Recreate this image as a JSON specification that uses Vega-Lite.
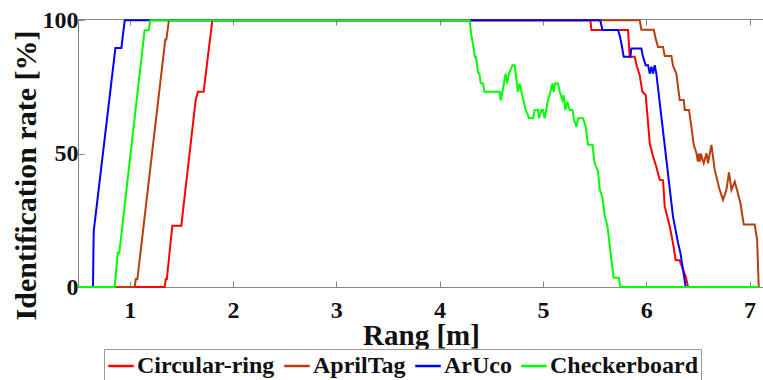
{
  "$schema": "https://vega.github.io/schema/vega-lite/v6.json",
  "width": 686,
  "height": 268,
  "autosize": {"type": "none"},
  "padding": {"left": 78, "top": 19, "right": 0, "bottom": 93},
  "background": "white",
  "config": {
    "view": {"stroke": null},
    "font": "Liberation Serif",
    "axis": {
      "grid": false,
      "labelFont": "Liberation Serif",
      "labelFontWeight": "bold",
      "labelColor": "#111111",
      "titleFont": "Liberation Serif",
      "titleFontWeight": "bold",
      "titleColor": "#111111",
      "domainColor": "#858585",
      "tickColor": "#858585",
      "domainWidth": 1,
      "tickWidth": 1
    }
  },
  "datasets": {
    "rates": [
      {"series": "Circular-ring", "range": 0.5, "rate": 0},
      {"series": "Circular-ring", "range": 1.339, "rate": 0},
      {"series": "Circular-ring", "range": 1.35, "rate": 3},
      {"series": "Circular-ring", "range": 1.36, "rate": 3},
      {"series": "Circular-ring", "range": 1.413, "rate": 23},
      {"series": "Circular-ring", "range": 1.5, "rate": 23},
      {"series": "Circular-ring", "range": 1.639, "rate": 70.1},
      {"series": "Circular-ring", "range": 1.661, "rate": 73.2},
      {"series": "Circular-ring", "range": 1.716, "rate": 73.2},
      {"series": "Circular-ring", "range": 1.8, "rate": 100},
      {"series": "Circular-ring", "range": 5.46, "rate": 100},
      {"series": "Circular-ring", "range": 5.469, "rate": 96.4},
      {"series": "Circular-ring", "range": 5.824, "rate": 96.4},
      {"series": "Circular-ring", "range": 5.84, "rate": 86.3},
      {"series": "Circular-ring", "range": 5.888, "rate": 86.3},
      {"series": "Circular-ring", "range": 5.911, "rate": 82.6},
      {"series": "Circular-ring", "range": 5.937, "rate": 79.4},
      {"series": "Circular-ring", "range": 5.963, "rate": 73.2},
      {"series": "Circular-ring", "range": 5.995, "rate": 72},
      {"series": "Circular-ring", "range": 6.034, "rate": 53.9},
      {"series": "Circular-ring", "range": 6.066, "rate": 49},
      {"series": "Circular-ring", "range": 6.098, "rate": 45},
      {"series": "Circular-ring", "range": 6.131, "rate": 40.2},
      {"series": "Circular-ring", "range": 6.163, "rate": 40},
      {"series": "Circular-ring", "range": 6.179, "rate": 30.2},
      {"series": "Circular-ring", "range": 6.228, "rate": 22.7},
      {"series": "Circular-ring", "range": 6.259, "rate": 16.5},
      {"series": "Circular-ring", "range": 6.285, "rate": 10},
      {"series": "Circular-ring", "range": 6.324, "rate": 10},
      {"series": "Circular-ring", "range": 6.356, "rate": 6.5},
      {"series": "Circular-ring", "range": 6.382, "rate": 4},
      {"series": "Circular-ring", "range": 6.405, "rate": 0},
      {"series": "Circular-ring", "range": 7.09, "rate": 0},

      {"series": "AprilTag", "range": 0.5, "rate": 0},
      {"series": "AprilTag", "range": 1.048, "rate": 0},
      {"series": "AprilTag", "range": 1.06, "rate": 3},
      {"series": "AprilTag", "range": 1.075, "rate": 3},
      {"series": "AprilTag", "range": 1.345, "rate": 92.8},
      {"series": "AprilTag", "range": 1.355, "rate": 92.8},
      {"series": "AprilTag", "range": 1.38, "rate": 100},
      {"series": "AprilTag", "range": 5.937, "rate": 100},
      {"series": "AprilTag", "range": 5.953, "rate": 96.5},
      {"series": "AprilTag", "range": 6.073, "rate": 96.5},
      {"series": "AprilTag", "range": 6.092, "rate": 93.1},
      {"series": "AprilTag", "range": 6.114, "rate": 90},
      {"series": "AprilTag", "range": 6.163, "rate": 90},
      {"series": "AprilTag", "range": 6.179, "rate": 86.6},
      {"series": "AprilTag", "range": 6.244, "rate": 86.6},
      {"series": "AprilTag", "range": 6.259, "rate": 83},
      {"series": "AprilTag", "range": 6.292, "rate": 80},
      {"series": "AprilTag", "range": 6.324, "rate": 70.1},
      {"series": "AprilTag", "range": 6.363, "rate": 70.1},
      {"series": "AprilTag", "range": 6.373, "rate": 66.4},
      {"series": "AprilTag", "range": 6.414, "rate": 66.4},
      {"series": "AprilTag", "range": 6.437, "rate": 60.1},
      {"series": "AprilTag", "range": 6.46, "rate": 53.3},
      {"series": "AprilTag", "range": 6.486, "rate": 50.2},
      {"series": "AprilTag", "range": 6.5, "rate": 47},
      {"series": "AprilTag", "range": 6.51, "rate": 50},
      {"series": "AprilTag", "range": 6.52, "rate": 47},
      {"series": "AprilTag", "range": 6.53, "rate": 50},
      {"series": "AprilTag", "range": 6.544, "rate": 48},
      {"series": "AprilTag", "range": 6.557, "rate": 46.4},
      {"series": "AprilTag", "range": 6.583, "rate": 50.2},
      {"series": "AprilTag", "range": 6.598, "rate": 46.4},
      {"series": "AprilTag", "range": 6.631, "rate": 53.3},
      {"series": "AprilTag", "range": 6.663, "rate": 43.9},
      {"series": "AprilTag", "range": 6.711, "rate": 36.4},
      {"series": "AprilTag", "range": 6.743, "rate": 32.7},
      {"series": "AprilTag", "range": 6.776, "rate": 36.4},
      {"series": "AprilTag", "range": 6.801, "rate": 43},
      {"series": "AprilTag", "range": 6.825, "rate": 36.4},
      {"series": "AprilTag", "range": 6.857, "rate": 39.5},
      {"series": "AprilTag", "range": 6.879, "rate": 36.4},
      {"series": "AprilTag", "range": 6.912, "rate": 31.4},
      {"series": "AprilTag", "range": 6.944, "rate": 23.4},
      {"series": "AprilTag", "range": 7.05, "rate": 23.4},
      {"series": "AprilTag", "range": 7.073, "rate": 17.8},
      {"series": "AprilTag", "range": 7.089, "rate": 0},
      {"series": "AprilTag", "range": 7.09, "rate": 0},

      {"series": "ArUco", "range": 0.5, "rate": 0},
      {"series": "ArUco", "range": 0.645, "rate": 0},
      {"series": "ArUco", "range": 0.652, "rate": 20.9},
      {"series": "ArUco", "range": 0.862, "rate": 89.6},
      {"series": "ArUco", "range": 0.92, "rate": 89.6},
      {"series": "ArUco", "range": 0.952, "rate": 100},
      {"series": "ArUco", "range": 5.555, "rate": 100},
      {"series": "ArUco", "range": 5.576, "rate": 96.4},
      {"series": "ArUco", "range": 5.727, "rate": 96.4},
      {"series": "ArUco", "range": 5.743, "rate": 94.4},
      {"series": "ArUco", "range": 5.76, "rate": 91.3},
      {"series": "ArUco", "range": 5.782, "rate": 86.3},
      {"series": "ArUco", "range": 5.847, "rate": 86.3},
      {"series": "ArUco", "range": 5.856, "rate": 89.4},
      {"series": "ArUco", "range": 5.953, "rate": 89.4},
      {"series": "ArUco", "range": 5.969, "rate": 86.3},
      {"series": "ArUco", "range": 5.995, "rate": 83.2},
      {"series": "ArUco", "range": 6.018, "rate": 83.2},
      {"series": "ArUco", "range": 6.034, "rate": 80},
      {"series": "ArUco", "range": 6.05, "rate": 82.6},
      {"series": "ArUco", "range": 6.066, "rate": 80},
      {"series": "ArUco", "range": 6.082, "rate": 83.2},
      {"series": "ArUco", "range": 6.098, "rate": 80},
      {"series": "ArUco", "range": 6.259, "rate": 26.5},
      {"series": "ArUco", "range": 6.276, "rate": 23},
      {"series": "ArUco", "range": 6.308, "rate": 16.5},
      {"series": "ArUco", "range": 6.331, "rate": 12.8},
      {"series": "ArUco", "range": 6.356, "rate": 6.5},
      {"series": "ArUco", "range": 6.382, "rate": 0},
      {"series": "ArUco", "range": 7.09, "rate": 0},

      {"series": "Checkerboard", "range": 0.5, "rate": 0},
      {"series": "Checkerboard", "range": 0.855, "rate": 0},
      {"series": "Checkerboard", "range": 0.885, "rate": 12.8},
      {"series": "Checkerboard", "range": 0.9, "rate": 12.8},
      {"series": "Checkerboard", "range": 1.145, "rate": 96.3},
      {"series": "Checkerboard", "range": 1.184, "rate": 96.3},
      {"series": "Checkerboard", "range": 1.2, "rate": 100},
      {"series": "Checkerboard", "range": 4.291, "rate": 100},
      {"series": "Checkerboard", "range": 4.305, "rate": 95},
      {"series": "Checkerboard", "range": 4.314, "rate": 93.1},
      {"series": "Checkerboard", "range": 4.33, "rate": 89.5},
      {"series": "Checkerboard", "range": 4.34, "rate": 86.3},
      {"series": "Checkerboard", "range": 4.352, "rate": 86.3},
      {"series": "Checkerboard", "range": 4.372, "rate": 80.5},
      {"series": "Checkerboard", "range": 4.385, "rate": 80},
      {"series": "Checkerboard", "range": 4.398, "rate": 76.5},
      {"series": "Checkerboard", "range": 4.42, "rate": 76.3},
      {"series": "Checkerboard", "range": 4.435, "rate": 73.2},
      {"series": "Checkerboard", "range": 4.582, "rate": 73.2},
      {"series": "Checkerboard", "range": 4.592, "rate": 70},
      {"series": "Checkerboard", "range": 4.608, "rate": 73.2},
      {"series": "Checkerboard", "range": 4.64, "rate": 80},
      {"series": "Checkerboard", "range": 4.653, "rate": 76.3},
      {"series": "Checkerboard", "range": 4.672, "rate": 80},
      {"series": "Checkerboard", "range": 4.705, "rate": 83.2},
      {"series": "Checkerboard", "range": 4.727, "rate": 83.2},
      {"series": "Checkerboard", "range": 4.759, "rate": 73.2},
      {"series": "Checkerboard", "range": 4.775, "rate": 76.3},
      {"series": "Checkerboard", "range": 4.792, "rate": 73.2},
      {"series": "Checkerboard", "range": 4.834, "rate": 66.4},
      {"series": "Checkerboard", "range": 4.866, "rate": 63.3},
      {"series": "Checkerboard", "range": 4.904, "rate": 63.3},
      {"series": "Checkerboard", "range": 4.921, "rate": 66.4},
      {"series": "Checkerboard", "range": 4.953, "rate": 66.4},
      {"series": "Checkerboard", "range": 4.962, "rate": 63.3},
      {"series": "Checkerboard", "range": 4.985, "rate": 66.4},
      {"series": "Checkerboard", "range": 5.001, "rate": 66.4},
      {"series": "Checkerboard", "range": 5.017, "rate": 63.3},
      {"series": "Checkerboard", "range": 5.049, "rate": 70.1},
      {"series": "Checkerboard", "range": 5.073, "rate": 73.2},
      {"series": "Checkerboard", "range": 5.092, "rate": 76.3},
      {"series": "Checkerboard", "range": 5.105, "rate": 73.2},
      {"series": "Checkerboard", "range": 5.117, "rate": 76.3},
      {"series": "Checkerboard", "range": 5.146, "rate": 76.3},
      {"series": "Checkerboard", "range": 5.163, "rate": 73.2},
      {"series": "Checkerboard", "range": 5.189, "rate": 70.1},
      {"series": "Checkerboard", "range": 5.201, "rate": 71.9},
      {"series": "Checkerboard", "range": 5.218, "rate": 66.4},
      {"series": "Checkerboard", "range": 5.237, "rate": 69.5},
      {"series": "Checkerboard", "range": 5.259, "rate": 66.4},
      {"series": "Checkerboard", "range": 5.286, "rate": 66.4},
      {"series": "Checkerboard", "range": 5.298, "rate": 63.3},
      {"series": "Checkerboard", "range": 5.324, "rate": 60},
      {"series": "Checkerboard", "range": 5.34, "rate": 63.3},
      {"series": "Checkerboard", "range": 5.388, "rate": 63.3},
      {"series": "Checkerboard", "range": 5.414, "rate": 60},
      {"series": "Checkerboard", "range": 5.437, "rate": 53.3},
      {"series": "Checkerboard", "range": 5.479, "rate": 53.3},
      {"series": "Checkerboard", "range": 5.501, "rate": 46.4},
      {"series": "Checkerboard", "range": 5.533, "rate": 43.4},
      {"series": "Checkerboard", "range": 5.55, "rate": 36.6},
      {"series": "Checkerboard", "range": 5.576, "rate": 33.6},
      {"series": "Checkerboard", "range": 5.598, "rate": 26.7},
      {"series": "Checkerboard", "range": 5.624, "rate": 23},
      {"series": "Checkerboard", "range": 5.663, "rate": 10.3},
      {"series": "Checkerboard", "range": 5.685, "rate": 3.5},
      {"series": "Checkerboard", "range": 5.734, "rate": 3.5},
      {"series": "Checkerboard", "range": 5.75, "rate": 0},
      {"series": "Checkerboard", "range": 7.09, "rate": 0}
    ]
  },
  "data": {"name": "rates"},
  "layer": [
    {
      "mark": {"type": "line", "strokeWidth": 2, "interpolate": "linear"},
      "encoding": {
        "x": {
          "field": "range",
          "type": "quantitative",
          "scale": {"domain": [0.5, 7.14], "nice": false, "zero": false},
          "axis": {
            "orient": "bottom",
            "values": [1, 2, 3, 4, 5, 6, 7],
            "tickSize": -6,
            "labelFontSize": 24,
            "labelPadding": 17,
            "title": "Rang [m]",
            "titleFontSize": 29,
            "titleBaseline": "alphabetic",
            "titleX": 343,
            "titleY": 57
          }
        },
        "y": {
          "field": "rate",
          "type": "quantitative",
          "scale": {"domain": [0, 100.5], "nice": false},
          "axis": {
            "values": [0, 50, 100],
            "tickSize": -6,
            "labelFontSize": 24,
            "labelPadding": 6,
            "title": "Identification rate [%]",
            "titleFontSize": 30,
            "titleAngle": 270,
            "titleBaseline": "alphabetic",
            "titleAlign": "center",
            "titleX": -42.5,
            "titleY": 156
          }
        },
        "color": {
          "field": "series",
          "type": "nominal",
          "sort": ["Circular-ring", "AprilTag", "ArUco", "Checkerboard"],
          "scale": {
            "domain": ["Circular-ring", "AprilTag", "ArUco", "Checkerboard"],
            "range": ["#ff0000", "#b83e0c", "#0000ff", "#00ff00"]
          },
          "legend": {
            "orient": "none",
            "legendX": 26,
            "legendY": 330,
            "direction": "horizontal",
            "columns": 4,
            "title": null,
            "symbolType": "stroke",
            "symbolSize": 650,
            "symbolStrokeWidth": 2.5,
            "labelFont": "Liberation Serif",
            "labelFontWeight": "bold",
            "labelFontSize": 24,
            "labelColor": "#111111",
            "labelLimit": 400,
            "labelOffset": 2,
            "columnPadding": 4,
            "padding": 3,
            "strokeColor": "#999999",
            "fillColor": "white"
          }
        }
      }
    },
    {
      "mark": {"type": "rule", "opacity": 0},
      "encoding": {
        "x": {
          "field": "range",
          "type": "quantitative",
          "scale": {"domain": [0.5, 7.14], "nice": false, "zero": false},
          "axis": {
            "orient": "top",
            "values": [1, 2, 3, 4, 5, 6, 7],
            "tickSize": -6,
            "labels": false,
            "title": null
          }
        }
      }
    }
  ],
  "resolve": {"axis": {"x": "independent"}}
}
